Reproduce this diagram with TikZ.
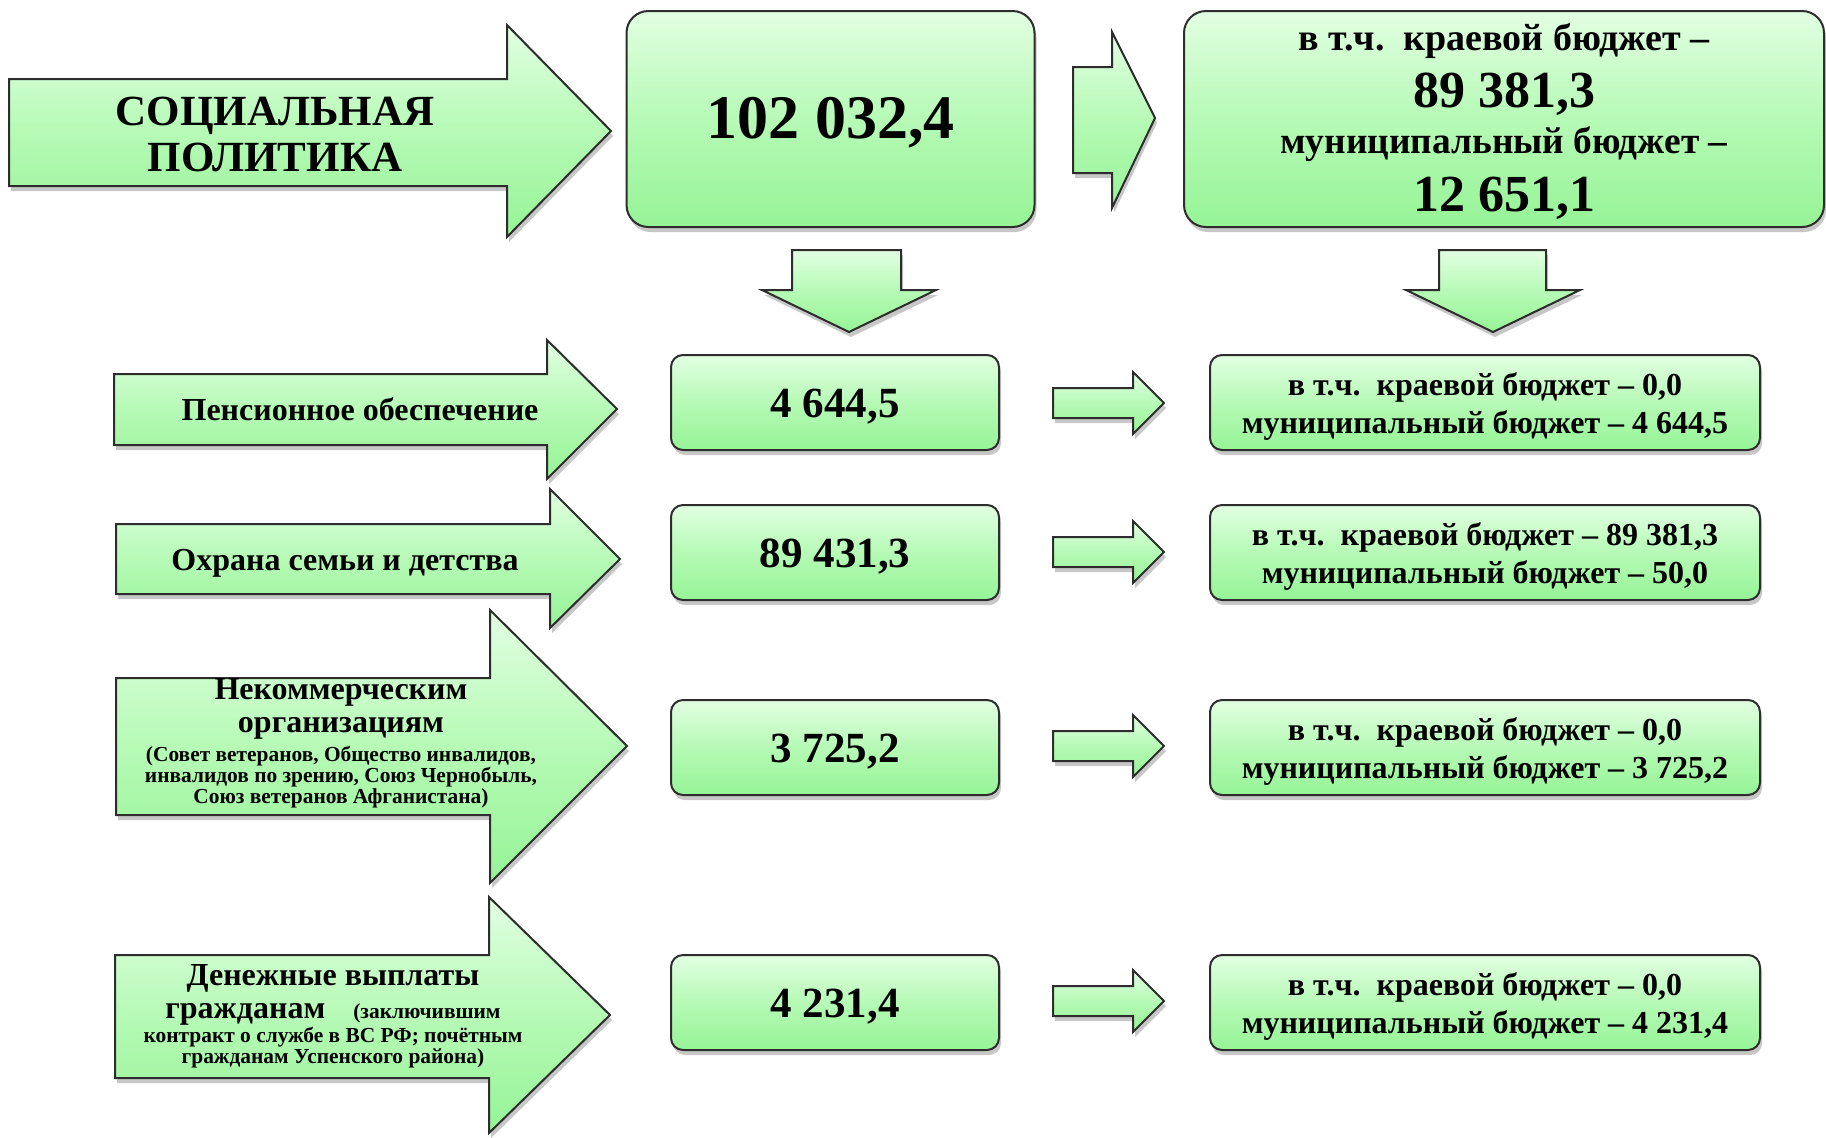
\documentclass[tikz,border=0pt]{standalone}
\usepackage{fontspec}
\setmainfont{Liberation Serif}
\usetikzlibrary{shadows}
\definecolor{gtop}{RGB}{226,255,226}
\definecolor{gmid}{RGB}{182,250,182}
\definecolor{gbot}{RGB}{150,244,150}
\definecolor{edgec}{RGB}{45,45,45}
\tikzset{
  shp/.style={draw=edgec, line width=1pt, line join=miter, top color=gtop, bottom color=gbot, middle color=gmid,
    drop shadow={shadow xshift=1pt, shadow yshift=-2.5pt, fill=black!40, opacity=0.55}},
  bigbox/.style={shp, rounded corners=11pt, inner sep=0pt},
  rowbox/.style={shp, rounded corners=6pt, inner sep=0pt, minimum height=47.5pt},
  midbox/.style={rowbox, minimum width=164pt},
  rbox/.style={rowbox, minimum width=275pt},
  midtxt/.style={inner sep=0pt, font=\bfseries\fontsize{21.5}{22}\selectfont},
  rtxt/.style={inner sep=0pt, align=center, font=\bfseries\fontsize{16}{19}\selectfont},
  txt/.style={inner sep=0pt, anchor=base, font=\bfseries},
}
\newcommand{\fs}[1]{\fontsize{#1}{#1}\selectfont}
\begin{document}
\begin{tikzpicture}[x=0.5pt,y=-0.5pt]
\useasboundingbox (0,0) rectangle (1826,1137);

% title arrow
\path[shp] (9,79) -- (507,79) -- (507,25) -- (611,131) -- (507,237) -- (507,186) -- (9,186) -- cycle;
\node[txt, font=\bfseries\fs{21.5}] (t1) at (275,125) {СОЦИАЛЬНАЯ};
\node[txt, font=\bfseries\fs{21.5}] (t2) at (275,171) {ПОЛИТИКА};

% top boxes
\node[bigbox, minimum width=204pt, minimum height=108pt] (total) at (830.5,119) {};
\node[txt, font=\bfseries\fs{31}] (totv) at (830.5,138) {102 032,4};
\path[shp] (1073,67) -- (1112,67) -- (1112,32) -- (1155,118) -- (1112,208) -- (1112,173) -- (1073,173) -- cycle;
\node[bigbox, minimum width=320pt, minimum height=108pt] (split) at (1504,119) {};
\node[txt, font=\bfseries\fs{19}] (s1) at (1504,50) {в т.ч.~~краевой бюджет –};
\node[txt, font=\bfseries\fs{26}] (s2) at (1504,107) {89 381,3};
\node[txt, font=\bfseries\fs{18.7}] (s3) at (1504,153) {муниципальный бюджет –};
\node[txt, font=\bfseries\fs{26}] (s4) at (1504,211) {12 651,1};

% down arrows
\path[shp] (792,250) -- (901,250) -- (901,290) -- (936,290) -- (849,332) -- (762,290) -- (792,290) -- cycle;
\path[shp] (1439,250) -- (1546,250) -- (1546,290) -- (1580,290) -- (1493,332) -- (1406,290) -- (1439,290) -- cycle;

% row arrows (left)
\path[shp] (114,374) -- (547,374) -- (547,340) -- (617,409) -- (547,479) -- (547,445) -- (114,445) -- cycle;
\path[shp] (116,524) -- (550,524) -- (550,489) -- (620,559) -- (550,628) -- (550,594) -- (116,594) -- cycle;
\path[shp] (116,678) -- (490,678) -- (490,610) -- (627,746) -- (490,883) -- (490,815) -- (116,815) -- cycle;
\path[shp] (115,955) -- (489,955) -- (489,897) -- (610,1015) -- (489,1133) -- (489,1078) -- (115,1078) -- cycle;

\node[txt, font=\bfseries\fs{16}] (l1) at (360,420) {Пенсионное обеспечение};
\node[txt, font=\bfseries\fs{16}] (l2) at (345,570) {Охрана семьи и детства};
\node[txt, font=\bfseries\fs{16}] (l3a) at (341,699) {Некоммерческим};
\node[txt, font=\bfseries\fs{16}] (l3b) at (341,732) {организациям};
\node[txt, font=\bfseries\fs{10.7}] (l3c) at (341,761) {(Совет ветеранов, Общество инвалидов,};
\node[txt, font=\bfseries\fs{10.7}] (l3d) at (341,782) {инвалидов по зрению, Союз Чернобыль,};
\node[txt, font=\bfseries\fs{10.7}] (l3e) at (341,803) {Союз ветеранов Афганистана)};
\node[txt, font=\bfseries\fs{16}] (l4a) at (333,985) {Денежные выплаты};
\node[txt, font=\bfseries\fs{10.7}] (l4b) at (333,1018) {{\fs{16}гражданам}\hspace{14pt}(заключившим};
\node[txt, font=\bfseries\fs{10.7}] (l4c) at (333,1042) {контракт о службе в ВС РФ; почётным};
\node[txt, font=\bfseries\fs{10.7}] (l4d) at (333,1063) {гражданам Успенского района)};

% middle boxes
\node[midbox] (m1) at (835,402.5) {};
\node[midbox] (m2) at (835,552.5) {};
\node[midbox] (m3) at (835,747.5) {};
\node[midbox] (m4) at (835,1002.5) {};
\node[midtxt] (m1t) at ([yshift=-1.8pt]m1.center) {4 644,5};
\node[midtxt] (m2t) at ([yshift=-1.8pt]m2.center) {89 431,3};
\node[midtxt] (m3t) at ([yshift=-1.8pt]m3.center) {3 725,2};
\node[midtxt] (m4t) at ([yshift=-1.8pt]m4.center) {4 231,4};

% small arrows
\foreach \c in {403,552,746,1001}{
  \path[shp] (1053,\c-15) -- (1133,\c-15) -- (1133,\c-31) -- (1164,\c) -- (1133,\c+31) -- (1133,\c+15) -- (1053,\c+15) -- cycle;
}

% right boxes
\node[rbox] (r1) at (1485,402.5) {};
\node[rbox] (r2) at (1485,552.5) {};
\node[rbox] (r3) at (1485,747.5) {};
\node[rbox] (r4) at (1485,1002.5) {};
\node[rtxt] (r1t) at ([yshift=-2pt]r1.center) {в т.ч.~~краевой бюджет – 0,0\\муниципальный бюджет – 4 644,5};
\node[rtxt] (r2t) at ([yshift=-2pt]r2.center) {в т.ч.~~краевой бюджет – 89 381,3\\муниципальный бюджет – 50,0};
\node[rtxt] (r3t) at ([yshift=-2pt]r3.center) {в т.ч.~~краевой бюджет – 0,0\\муниципальный бюджет – 3 725,2};
\node[rtxt] (r4t) at ([yshift=-2pt]r4.center) {в т.ч.~~краевой бюджет – 0,0\\муниципальный бюджет – 4 231,4};
\end{tikzpicture}
\end{document}
